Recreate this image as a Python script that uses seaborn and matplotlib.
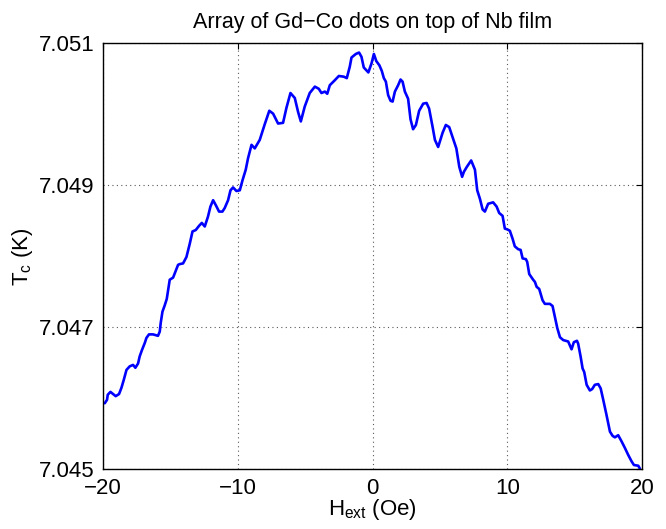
import numpy as np
import pandas as pd
import matplotlib
matplotlib.use("Agg")
import matplotlib.pyplot as plt
import seaborn as sns

# Critical temperature versus applied field (field sweep, -20 Oe to +20 Oe)
h_ext = [
    -19.87, -19.70, -19.65, -19.45, -19.26, -19.06, -18.81, -18.63, -18.46, -18.26,
    -18.02, -17.77, -17.60, -17.40, -17.28, -17.11, -16.90, -16.78, -16.59, -16.29,
    -15.92, -15.79, -15.72, -15.59, -15.42, -15.27, -15.05, -14.80, -14.43, -14.31,
    -14.06, -13.81, -13.56, -13.36, -13.12, -12.87, -12.67, -12.45, -12.21, -12.03,
    -11.83, -11.63, -11.39, -11.14, -10.97, -10.72, -10.54, -10.35, -10.10, -9.85,
    -9.65, -9.41, -9.24, -8.98, -8.74, -8.37, -8.00, -7.66, -7.38, -7.01,
    -6.64, -6.39, -6.09, -5.77, -5.52, -5.32, -5.03, -4.66, -4.28, -3.99,
    -3.79, -3.54, -3.36, -3.17, -2.80, -2.50, -2.13, -1.91, -1.69, -1.56,
    -1.24, -1.00, -0.82, -0.65, -0.31, -0.07, 0.10, 0.28, 0.51, 0.69,
    0.84, 0.99, 1.16, 1.34, 1.49, 1.66, 1.90, 2.08, 2.23, 2.40,
    2.64, 2.82, 3.01, 3.22, 3.46, 3.76, 4.01, 4.20, 4.45, 4.63,
    4.87, 5.20, 5.44, 5.69, 5.94, 6.22, 6.44, 6.65, 6.78, 7.00,
    7.32, 7.60, 7.77, 7.97, 8.17, 8.34, 8.58, 8.95, 9.21, 9.40,
    9.65, 9.82, 9.99, 10.19, 10.39, 10.56, 10.81, 10.99, 11.14, 11.38,
    11.48, 11.63, 11.92, 12.05, 12.18, 12.37, 12.62, 12.79, 13.16, 13.36,
    13.53, 13.71, 13.91, 14.15, 14.52, 14.77, 14.94, 15.17, 15.26, 15.44,
    15.59, 15.71, 15.89, 16.13, 16.30, 16.50, 16.75, 16.93, 17.12, 17.37,
    17.62, 17.82, 17.99, 18.23, 18.49, 18.73, 18.98, 19.23, 19.40, 19.72,
    19.84,
]
t_c = [
    7.04593, 7.04598, 7.04605, 7.04609, 7.04606, 7.04603, 7.04606, 7.04615, 7.04626, 7.04640,
    7.04645, 7.04647, 7.04643, 7.04649, 7.04659, 7.04668, 7.04678, 7.04685, 7.04690, 7.04690,
    7.04688, 7.04694, 7.04706, 7.04722, 7.04731, 7.04740, 7.04767, 7.04770, 7.04788, 7.04789,
    7.04790, 7.04799, 7.04818, 7.04835, 7.04837, 7.04843, 7.04847, 7.04842, 7.04856, 7.04870,
    7.04879, 7.04872, 7.04863, 7.04863, 7.04868, 7.04879, 7.04893, 7.04897, 7.04892, 7.04893,
    7.04907, 7.04922, 7.04938, 7.04957, 7.04952, 7.04964, 7.04986, 7.05005, 7.05001, 7.04987,
    7.04988, 7.05009, 7.05030, 7.05023, 7.05003, 7.04990, 7.05011, 7.05030, 7.05039, 7.05036,
    7.05030, 7.05032, 7.05029, 7.05041, 7.05048, 7.05054, 7.05053, 7.05051, 7.05067, 7.05080,
    7.05085, 7.05087, 7.05081, 7.05066, 7.05059, 7.05072, 7.05085, 7.05075, 7.05069, 7.05061,
    7.05051, 7.05046, 7.05027, 7.05019, 7.05018, 7.05032, 7.05041, 7.05049, 7.05046, 7.05032,
    7.05022, 7.04993, 7.04979, 7.04985, 7.05005, 7.05015, 7.05016, 7.05008, 7.04983, 7.04964,
    7.04954, 7.04974, 7.04985, 7.04982, 7.04968, 7.04952, 7.04926, 7.04912, 7.04919, 7.04926,
    7.04935, 7.04922, 7.04893, 7.04881, 7.04866, 7.04863, 7.04874, 7.04876, 7.04870, 7.04861,
    7.04857, 7.04839, 7.04838, 7.04836, 7.04825, 7.04814, 7.04810, 7.04809, 7.04797, 7.04796,
    7.04792, 7.04775, 7.04767, 7.04764, 7.04757, 7.04754, 7.04738, 7.04733, 7.04733, 7.04730,
    7.04715, 7.04699, 7.04686, 7.04682, 7.04680, 7.04669, 7.04679, 7.04681, 7.04677, 7.04659,
    7.04642, 7.04637, 7.04619, 7.04611, 7.04613, 7.04619, 7.04620, 7.04614, 7.04598, 7.04576,
    7.04553, 7.04547, 7.04545, 7.04548, 7.04539, 7.04530, 7.04520, 7.04511, 7.04506, 7.04505,
    7.04501,
]

x_ticks = [-20, -10, 0, 10, 20]
y_ticks = [7.045, 7.047, 7.049, 7.051]
y_tick_labels = ["7.045", "7.047", "7.049", "7.051"]

sns.set_style("white")
plt.rcParams["font.family"] = ["Liberation Sans", "DejaVu Sans"]
plt.rcParams["mathtext.fontset"] = "custom"
plt.rcParams["mathtext.rm"] = "Liberation Sans"
plt.rcParams["text.color"] = "black"
plt.rcParams["axes.labelcolor"] = "black"

df = pd.DataFrame({"H": h_ext, "Tc": t_c})

fig = plt.figure(figsize=(6.66, 5.29), dpi=100)
ax = fig.add_axes([0.1547, 0.1129, 0.8093, 0.8052])

sns.lineplot(data=df, x="H", y="Tc", ax=ax, sort=False, estimator=None,
             color="#0000ff", linewidth=1.9, solid_joinstyle="round",
             solid_capstyle="round")

ax.set_xlim(-20, 20)
ax.set_ylim(7.045, 7.051)
ax.set_xticks(x_ticks)
ax.set_xticklabels([f"{v}".replace("-", "\u2212") for v in x_ticks])
ax.set_yticks(y_ticks)
ax.set_yticklabels(y_tick_labels)

ax.grid(True, linestyle=(0, (1, 3)), color="0.35", linewidth=0.8)
ax.tick_params(direction="in", length=4, width=0.8, labelsize=16,
               top=True, right=True, pad=6, colors="black")
for s in ax.spines.values():
    s.set_visible(True)
    s.set_color("black")
    s.set_linewidth(1.0)

ax.set_title("Array of Gd\u2212Co dots on top of Nb film", fontsize=15.5, pad=11,
             color="black")
ax.set_xlabel(r"$\mathregular{H_{ext}}$ (Oe)", fontsize=16, labelpad=-1)
ax.set_ylabel(r"$\mathregular{T_c}$ (K)", fontsize=16, labelpad=2.5)

fig.savefig("out.png", dpi=100)
